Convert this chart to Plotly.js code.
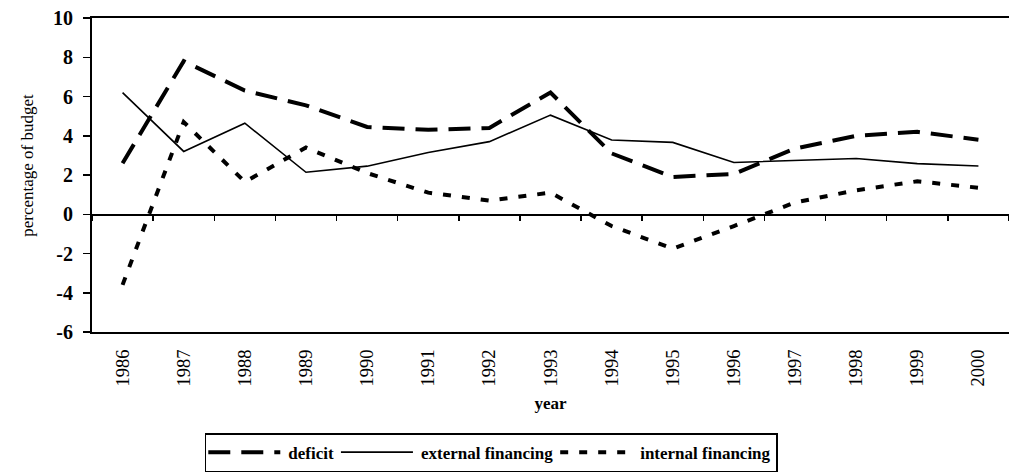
<!DOCTYPE html>
<html>
<head>
<meta charset="utf-8">
<script src="https://cdn.plot.ly/plotly-3.0.1.min.js"></script>
<style>html,body{margin:0;padding:0;background:#fff;}#chart{width:1009px;height:473px;}</style>
</head>
<body>
<div id="chart"></div>
<script>
const years = ["1986","1987","1988","1989","1990","1991","1992","1993","1994","1995","1996","1997","1998","1999","2000"];
const deficit = [2.6, 7.8, 6.3, 5.55, 4.45, 4.3, 4.4, 6.2, 3.1, 1.9, 2.05, 3.35, 4.0, 4.2, 3.8];
const externalFinancing = [6.2, 3.2, 4.64, 2.14, 2.45, 3.15, 3.7, 5.05, 3.78, 3.66, 2.64, 2.75, 2.84, 2.58, 2.46];
const internalFinancing = [-3.6, 4.7, 1.65, 3.4, 2.1, 1.1, 0.7, 1.1, -0.6, -1.75, -0.6, 0.6, 1.22, 1.68, 1.35];
const yTicks = [-6, -4, -2, 0, 2, 4, 6, 8, 10];

const serif = "Liberation Serif, Times New Roman, serif";

const traces = [
  {x: years, y: deficit, name: "deficit", type: "scatter", mode: "lines",
   line: {color: "#000", width: 4, dash: "22px,11px"}},
  {x: years, y: externalFinancing, name: "external financing", type: "scatter", mode: "lines",
   line: {color: "#000", width: 1.6}},
  {x: years, y: internalFinancing, name: "internal financing", type: "scatter", mode: "lines",
   line: {color: "#000", width: 4, dash: "8px,11px"}},
  {x: years, y: externalFinancing, xaxis: "x2", type: "scatter", mode: "lines",
   showlegend: false, hoverinfo: "skip", opacity: 0, line: {width: 0}}
];

const layout = {
  width: 1009, height: 473,
  margin: {l: 92, r: 0, t: 18, b: 141},
  paper_bgcolor: "#fff", plot_bgcolor: "#fff",
  showlegend: true,
  font: {family: serif, color: "#000"},
  xaxis: {
    type: "category", categoryarray: years, range: [-0.5, 14.5],
    showline: true, linecolor: "#000", linewidth: 2, mirror: true,
    ticks: "", tickangle: -90, showgrid: false, zeroline: false, automargin: false,
    ticklabelstandoff: 8,
    tickfont: {family: serif, size: 18.5, color: "#000"},
    title: {text: "<b>year</b>", font: {family: serif, size: 17, color: "#000"}, standoff: 12}
  },
  xaxis2: {
    type: "category", categoryarray: years, range: [-0.5, 14.5],
    overlaying: "x", anchor: "free", position: 0.375,
    showline: true, linecolor: "#000", linewidth: 1.5,
    ticks: "outside", tickson: "boundaries", ticklen: 5, tickwidth: 1.5, tickcolor: "#000",
    showticklabels: false, showgrid: false, zeroline: false
  },
  yaxis: {
    range: [-6, 10], tickvals: yTicks, ticktext: yTicks.map(v => String(v)),
    showline: true, linecolor: "#000", linewidth: 2, mirror: true,
    ticks: "outside", ticklen: 7, tickwidth: 1.5, tickcolor: "#000",
    showgrid: false, zeroline: false, automargin: false,
    ticklabelstandoff: 6,
    tickfont: {family: serif, size: 20, color: "#000", weight: "bold"}
  },
  annotations: [{
    text: "percentage of budget", textangle: -90, showarrow: false,
    xref: "paper", yref: "paper", x: -0.07, y: 0.532, xanchor: "center", yanchor: "middle",
    font: {family: serif, size: 17, color: "#000"}
  }],
  legend: {
    orientation: "h", x: 0.123, xanchor: "left", y: -0.322, yanchor: "top",
    bordercolor: "#000", borderwidth: 1.5, bgcolor: "#fff",
    font: {family: serif, size: 17, color: "#000", weight: "bold"},
    itemwidth: 72, tracegroupgap: 0
  }
};

Plotly.newPlot("chart", traces, layout, {staticPlot: true, displayModeBar: false}).then(function (gd) {
  // stretch legend line samples to fill the wider symbol area, as in the original
  gd.querySelectorAll(".legend .legendlines path").forEach(function (p) {
    p.setAttribute("d", "M2,0h72");
  });
});
</script>
</body>
</html>
